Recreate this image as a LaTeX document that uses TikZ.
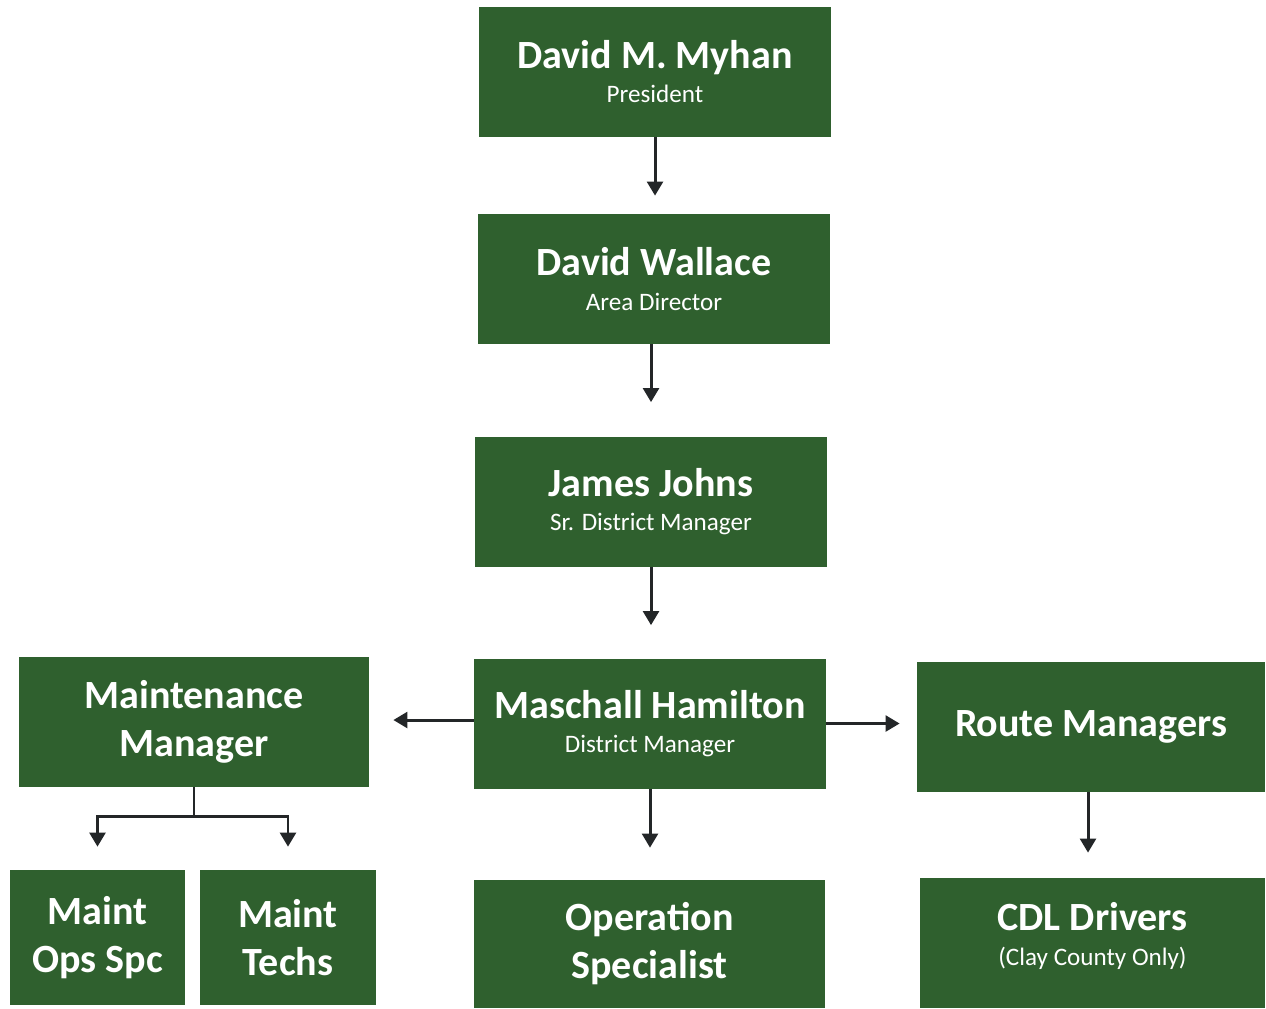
\documentclass[tikz,border=0pt]{standalone}
\usepackage{fontspec}
\setmainfont{Carlito}
\usetikzlibrary{arrows.meta}
\definecolor{boxgreen}{RGB}{47,96,46}
\definecolor{arrowgray}{RGB}{35,38,40}
\newdimen\pxu \pxu=0.02cm
\newcommand{\rolefont}{\fontsize{14.3}{17}\selectfont\mdseries}
\tikzset{
  orgbox/.style={fill=boxgreen, text=white, inner sep=0pt, align=center,
    minimum width=352\pxu, minimum height=130\pxu,
    font=\fontsize{22.8}{27.3}\selectfont\bfseries},
  link/.style={draw=arrowgray, line width=1.7pt, -{Triangle[width=9pt,length=8pt]}}
}
\begin{document}
\begin{tikzpicture}[x=0.02cm, y=-0.02cm]
\useasboundingbox[fill=white] (0,0) rectangle (1266,1008);
% top of the chain
\node [orgbox] (myhan) at (655,71.5) {David M. Myhan\\[-7.5pt]{\rolefont President}};
\node [orgbox] (wallace) at (654,279) {David Wallace\\[-7.5pt]{\rolefont Area Director}};
\node [orgbox] (johns) at (651,501.5) {James Johns\\[-7.5pt]{\rolefont Sr. District Manager}};
\node [orgbox] (hamilton) at (650,723.5) {Maschall Hamilton\\[-7.5pt]{\rolefont District Manager}};
% side branches
\node [orgbox, minimum width=350\pxu] (maintmgr) at (194,721.5) {Maintenance\\Manager};
\node [orgbox, minimum width=348\pxu] (routemgr) at (1091,726.5) {Route Managers};
% bottom row
\node [orgbox, minimum width=175\pxu, minimum height=135\pxu] (opsspc) at (97.5,937.5) {Maint\\Ops Spc};
\node [orgbox, minimum width=176\pxu, minimum height=135\pxu] (techs) at (288,937.5) {Maint\\Techs};
\node [orgbox, minimum width=351\pxu, minimum height=128\pxu] (opspec) at (649.5,944) {Operation\\Specialist};
\node [orgbox, minimum width=345\pxu, text depth=10pt] (cdl) at (1092.5,943) {CDL Drivers\\[-7.5pt]{\rolefont (Clay County Only)}};
% connectors
\draw [link, shorten >=18\pxu] (myhan.south) -- (myhan.south |- wallace.north);
\draw [link, shorten >=34\pxu] (wallace.south -| johns.north) -- (johns.north);
\draw [link, shorten >=33\pxu] (johns.south) -- (johns.south |- hamilton.north);
\draw [link, shorten >=24\pxu] ([yshift=3.5\pxu]hamilton.west) -- ([yshift=3.5\pxu]hamilton.west -| maintmgr.east);
\draw [link, shorten >=17\pxu] (hamilton.east) -- (hamilton.east -| routemgr.west);
\draw [link, shorten >=32\pxu] (hamilton.south) -- (hamilton.south |- opspec.north);
\draw [link, shorten >=25\pxu] ([xshift=-3\pxu]routemgr.south) -- ([xshift=-3\pxu]routemgr.south |- cdl.north);
\draw [link, shorten >=23\pxu] (maintmgr.south) -- ++(0,30) -| (opsspc.north);
\draw [link, shorten >=23\pxu] (maintmgr.south) -- ++(0,30) -| (techs.north);
\end{tikzpicture}
\end{document}
